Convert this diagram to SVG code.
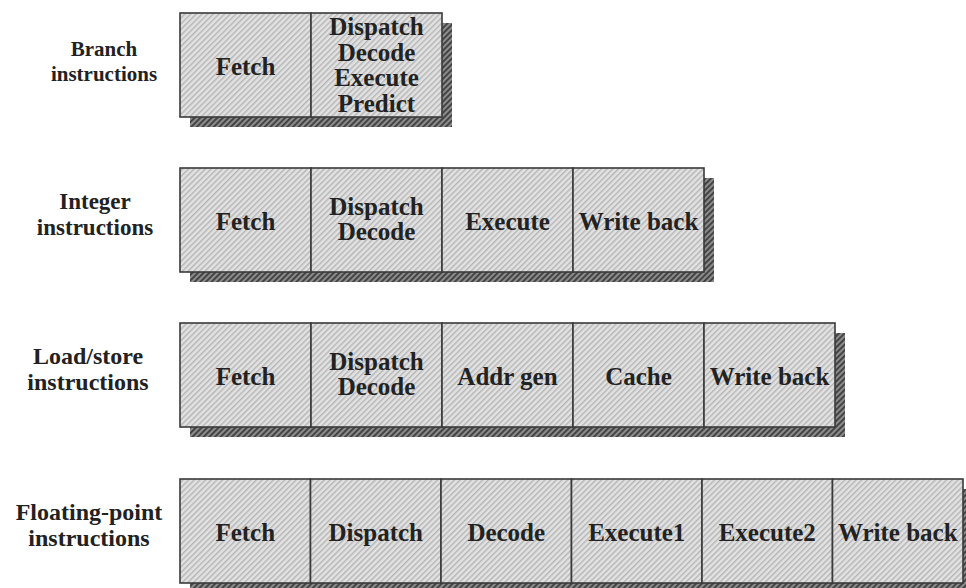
<svg xmlns="http://www.w3.org/2000/svg" width="966" height="588" viewBox="0 0 966 588">
  <defs>
    <pattern id="hatch" patternUnits="userSpaceOnUse" width="4" height="4" patternTransform="rotate(-45)">
      <rect width="4" height="4" fill="#e2e2e2"/>
      <rect y="0" width="4" height="1.4" fill="#b4b4b4"/>
    </pattern>
    <pattern id="shade" patternUnits="userSpaceOnUse" width="4" height="4" patternTransform="rotate(-45)">
      <rect width="4" height="4" fill="#8c8c8c"/>
      <rect y="0" width="4" height="1.8" fill="#3c3c3c"/>
    </pattern>
  </defs>
  <style>
    .cell { fill: url(#hatch); stroke: #3a3a3a; stroke-width: 1.6; }
    .shadow { fill: url(#shade); stroke: none; }
    .t { font-family: "Liberation Serif", "Times New Roman", serif; font-weight: bold; font-size: 25px; fill: #222; text-anchor: middle; }
    .lbl { font-family: "Liberation Serif", "Times New Roman", serif; font-weight: bold; fill: #222; text-anchor: middle; }
  </style>
  <rect width="966" height="588" fill="#ffffff"/>
  <g id="connectors"/>

  <!-- Row 1: Branch -->
  <g id="row-branch">
    <text class="lbl" x="104" y="56" font-size="21">Branch</text>
    <text class="lbl" x="104" y="81" font-size="21">instructions</text>
    <rect class="shadow" x="190" y="23" width="262" height="104"/>
    <g id="branch-fetch">
      <rect class="cell" x="180" y="13" width="131" height="104"/>
      <text class="t" x="245.5" y="75">Fetch</text>
    </g>
    <g id="branch-dispatch">
      <rect class="cell" x="311" y="13" width="131" height="104"/>
      <text class="t" x="376.5" y="35">Dispatch</text>
      <text class="t" x="376.5" y="60.5">Decode</text>
      <text class="t" x="376.5" y="86">Execute</text>
      <text class="t" x="376.5" y="111.5">Predict</text>
    </g>
  </g>

  <!-- Row 2: Integer -->
  <g id="row-integer">
    <text class="lbl" x="95" y="209" font-size="23">Integer</text>
    <text class="lbl" x="95" y="235" font-size="23">instructions</text>
    <rect class="shadow" x="190" y="178" width="524" height="104"/>
    <g id="integer-fetch">
      <rect class="cell" x="180" y="168" width="131" height="104"/>
      <text class="t" x="245.5" y="230">Fetch</text>
    </g>
    <g id="integer-dispatch">
      <rect class="cell" x="311" y="168" width="131" height="104"/>
      <text class="t" x="376.5" y="215">Dispatch</text>
      <text class="t" x="376.5" y="240">Decode</text>
    </g>
    <g id="integer-execute">
      <rect class="cell" x="442" y="168" width="131" height="104"/>
      <text class="t" x="507.5" y="230">Execute</text>
    </g>
    <g id="integer-writeback">
      <rect class="cell" x="573" y="168" width="131" height="104"/>
      <text class="t" x="638.5" y="230">Write back</text>
    </g>
  </g>

  <!-- Row 3: Load/store -->
  <g id="row-loadstore">
    <text class="lbl" x="88" y="364" font-size="24">Load/store</text>
    <text class="lbl" x="88" y="390" font-size="24">instructions</text>
    <rect class="shadow" x="190" y="333" width="655" height="104"/>
    <g id="loadstore-fetch">
      <rect class="cell" x="180" y="323" width="131" height="104"/>
      <text class="t" x="245.5" y="385">Fetch</text>
    </g>
    <g id="loadstore-dispatch">
      <rect class="cell" x="311" y="323" width="131" height="104"/>
      <text class="t" x="376.5" y="370">Dispatch</text>
      <text class="t" x="376.5" y="395">Decode</text>
    </g>
    <g id="loadstore-addrgen">
      <rect class="cell" x="442" y="323" width="131" height="104"/>
      <text class="t" x="507.5" y="385">Addr gen</text>
    </g>
    <g id="loadstore-cache">
      <rect class="cell" x="573" y="323" width="131" height="104"/>
      <text class="t" x="638.5" y="385">Cache</text>
    </g>
    <g id="loadstore-writeback">
      <rect class="cell" x="704" y="323" width="131" height="104"/>
      <text class="t" x="769.5" y="385">Write back</text>
    </g>
  </g>

  <!-- Row 4: Floating-point -->
  <g id="row-floatingpoint">
    <text class="lbl" x="89" y="520" font-size="24">Floating-point</text>
    <text class="lbl" x="89" y="546" font-size="24">instructions</text>
    <rect class="shadow" x="190" y="489" width="783" height="104"/>
    <g id="fp-fetch">
      <rect class="cell" x="180" y="479" width="130.5" height="104"/>
      <text class="t" x="245.25" y="541">Fetch</text>
    </g>
    <g id="fp-dispatch">
      <rect class="cell" x="310.5" y="479" width="130.5" height="104"/>
      <text class="t" x="375.75" y="541">Dispatch</text>
    </g>
    <g id="fp-decode">
      <rect class="cell" x="441" y="479" width="130.5" height="104"/>
      <text class="t" x="506.25" y="541">Decode</text>
    </g>
    <g id="fp-execute1">
      <rect class="cell" x="571.5" y="479" width="130.5" height="104"/>
      <text class="t" x="636.75" y="541">Execute1</text>
    </g>
    <g id="fp-execute2">
      <rect class="cell" x="702" y="479" width="130.5" height="104"/>
      <text class="t" x="767.25" y="541">Execute2</text>
    </g>
    <g id="fp-writeback">
      <rect class="cell" x="832.5" y="479" width="130.5" height="104"/>
      <text class="t" x="897.75" y="541">Write back</text>
    </g>
  </g>
</svg>
